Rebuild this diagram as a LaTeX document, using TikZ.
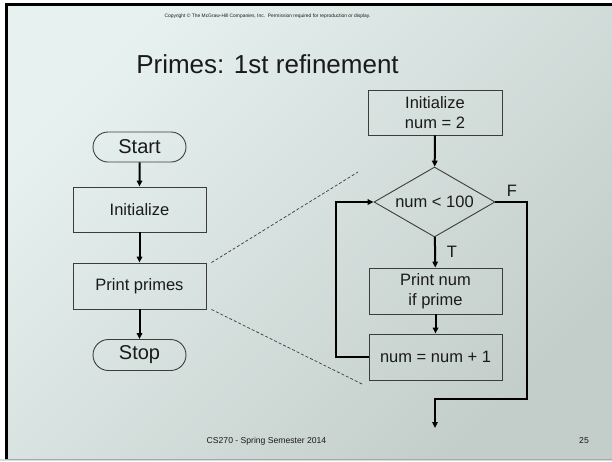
\documentclass[tikz,border=0pt]{standalone}
\usepackage{fontspec}
\setmainfont{Liberation Sans}
\usetikzlibrary{shapes.geometric,shapes.misc,arrows.meta}
\definecolor{bgA}{HTML}{E7F2F0}
\definecolor{bgB}{HTML}{C3CDCA}
\definecolor{ink}{HTML}{1A1A1A}
\definecolor{edge}{HTML}{3C3C3C}
\definecolor{rim}{HTML}{D5DEDB}
\definecolor{rimline}{HTML}{A0ACA8}
\tikzset{
  flowbox/.style={draw=edge, line width=0.9pt, rectangle, minimum width=133pt,
    minimum height=45pt, inner sep=0pt, align=center, text=ink,
    font=\fontsize{16.5}{20}\selectfont},
  term/.style={draw=edge, line width=0.9pt, rounded rectangle, minimum width=93pt,
    minimum height=30pt, inner sep=0pt, text=ink, font=\fontsize{20}{24}\selectfont},
  decide/.style={draw=edge, line width=0.9pt, diamond, minimum width=121pt,
    minimum height=70pt, inner sep=0pt},
  conn/.style={draw=black, line width=2pt, -{Triangle[length=6pt,width=5.5pt]}},
  zoomline/.style={draw=edge, line width=0.7pt, dash pattern=on 3pt off 2pt},
  flag/.style={text=ink, font=\fontsize{16.5}{20}\selectfont, inner sep=0pt},
}
\begin{document}
\begin{tikzpicture}[x=1pt,y=-1pt]
\useasboundingbox (0,0) rectangle (612,461);
% slide background and frame
\fill[white] (0,0) rectangle (612,461);
\shade[top color=bgA, bottom color=bgB, shading angle=45] (5,3) rectangle (612,459);
\fill[black] (5,3) rectangle (612,5.5);
\fill[black] (5,3) rectangle (8,459);
\fill[rim] (0,459) rectangle (612,461);
\draw[line width=0.6pt, rimline] (5,459) -- (612,459);

% header and footer texts
\node[text=ink, font=\fontsize{4.9}{6}\selectfont, inner sep=0pt] (copy) at (267.5,16)
  {Copyright \textcopyright{} The McGraw-Hill Companies, Inc.\ \ Permission required for reproduction or display.};
\node[text=ink, font=\fontsize{26}{30}\selectfont, inner sep=0pt] (title) at (267.5,64) {Primes: 1st refinement};
\node[text=ink, font=\fontsize{8.6}{10}\selectfont, inner sep=0pt] (foot) at (266.5,441) {CS270 - Spring Semester 2014};
\node[text=ink, font=\fontsize{8.6}{10}\selectfont, inner sep=0pt] (page) at (584,441) {25};

% coarse flowchart
\node[term] (start) at (139.5,147) {Start};
\node[flowbox] (init) at (139.5,209.5) {Initialize};
\node[flowbox, minimum height=46pt] (print) at (139.5,286) {Print primes};
\node[term, minimum height=31pt] (stop) at (139.5,355) {Stop};
\draw[conn] (start) -- (init);
\draw[conn] (init) -- (print);
\draw[conn] (print) -- (stop);

% refined flowchart
\node[flowbox, minimum width=134pt] (init2) at (435,112.5) {Initialize\\num = 2};
\node[decide, label={[flag]center:num < 100}] (test) at (434.5,202) {};
\node[flowbox, minimum height=46pt] (printnum) at (435.5,291) {Print num\\if prime};
\node[flowbox, minimum height=46pt] (incr) at (435.5,357) {num = num + 1};
\node[flag] (flabF) at (512,191) {F};
\node[flag] (flabT) at (452,252) {T};
\coordinate (loopL) at (336,357);
\coordinate (exitR) at (527,399);
\coordinate (exitM) at (435,399);
\coordinate (exitEnd) at (435,428);
\draw[conn] (init2) -- (test);
\draw[conn] (test) -- (printnum);
\draw[conn] (printnum) -- (incr);
\draw[conn] (incr.west) -- (loopL) |- (test.west);
\draw[conn] (test.east) -| (exitR) -- (exitM) -- (exitEnd);

% refinement guide lines
\coordinate (guideTop) at (358,172);
\coordinate (guideBot) at (362,384);
\draw[zoomline] ([xshift=5pt]print.north east) -- (guideTop);
\draw[zoomline] ([xshift=5pt]print.south east) -- (guideBot);
\end{tikzpicture}
\end{document}
